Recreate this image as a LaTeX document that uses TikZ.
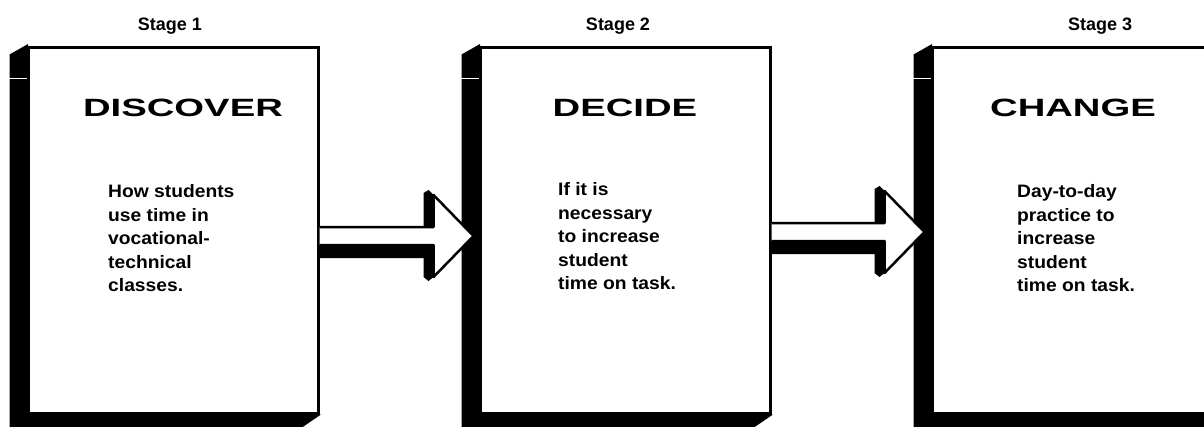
\documentclass[tikz,border=0pt]{standalone}
\usepackage{fontspec}
\setmainfont{Liberation Sans}
\newfontfamily\headfont{Liberation Sans}[FakeStretch=1.53]
\newfontfamily\bodyfont{Liberation Sans}[FakeStretch=1.07]
\usetikzlibrary{positioning,calc}

% dark side of a stage box (left and bottom)
\newcommand\BoxDepth[1]{%
  \fill ($(#1.north west)+(1.5,-1.5)$) -- ($(#1.north west)+(-17,9)$)
    -- ($(#1.south west)+(-17,14)$) -- ($(#1.south east)+(-19,14)$)
    -- ($(#1.south east)+(1.5,0)$) -- ($(#1.south west)+(1.5,0)$) -- cycle;
  \draw[white,line width=1.5pt] ($(#1.north west)+(-18,33)$) -- ($(#1.north west)+(0,33)$);
}
% hollow block arrow with its shadow, from #1 to tip #2
\newcommand\StageArrow[2]{%
  \fill ($(#1)+(0,22)$) -- ($(#1)+(0,5)$) -- ($(#2)+(-50,5)$) -- ($(#2)+(-50,-43)$)
    -- ($(#2)+(-45,-46)$) -- ($(#2)+(-40,-41)$) -- ($(#2)+(-40,41)$)
    -- ($(#2)+(-45,45)$) -- ($(#2)+(-50,41)$) -- ($(#2)+(-50,22)$) -- cycle;
  \draw[arrowface] ($(#1)+(0,-9)$) -- ($(#2)+(-40,-9)$) -- ($(#2)+(-40,-41)$) -- (#2)
    -- ($(#2)+(-40,41)$) -- ($(#2)+(-40,9)$) -- ($(#1)+(0,9)$);
}

\begin{document}
\begin{tikzpicture}[x=1pt,y=-1pt,node distance=159pt]
\tikzset{stagebox/.style={draw,fill=white,line width=3pt,inner sep=0pt,
           minimum width=290pt,minimum height=366pt},
         stagelabel/.style={inner sep=0pt,font=\bfseries\fontsize{18}{20}\selectfont},
         headtext/.style={inner sep=0pt,font=\headfont\bfseries\fontsize{25}{30}\selectfont},
         bodytext/.style={inner sep=0pt,anchor=north west,align=left,
           font=\bodyfont\bfseries\fontsize{18}{23.5}\selectfont},
         arrowface/.style={draw,fill=white,line width=2.5pt,line join=round}}
\useasboundingbox (0,0) rectangle (1204,426);

\node[stagebox] (discover) at (173,230) {};
\node[stagebox,right=of discover] (decide) {};
\node[stagebox,right=of decide] (change) {};
\BoxDepth{discover}
\BoxDepth{decide}
\BoxDepth{change}

\node[stagelabel,above=11pt of discover,xshift=-3pt] (st1) {Stage 1};
\node[stagelabel,above=11pt of decide,xshift=-7pt] (st2) {Stage 2};
\node[stagelabel,above=11pt of change,xshift=23pt] (st3) {Stage 3};

\node[headtext] (h1) at ($(discover.north)+(10,62.5)$) {DISCOVER};
\node[headtext] (h2) at ($(decide.north)+(0,62.5)$) {DECIDE};
\node[headtext] (h3) at ($(change.north)+(-4,62.5)$) {CHANGE};

\node[bodytext] (t1) at ($(discover.north west)+(81.5,139)$)
  {How students\\use time in\\vocational-\\technical\\classes.};
\node[bodytext] (t2) at ($(decide.north west)+(79.5,137)$)
  {If it is\\necessary\\to increase\\student\\time on task.};
\node[bodytext] (t3) at ($(change.north west)+(86.5,139)$)
  {Day-to-day\\practice to\\increase\\student\\time on task.};

\coordinate (a1s) at ($(discover.east)+(0,6)$);
\coordinate (a1t) at ($(decide.west)+(-5,6)$);
\coordinate (a2s) at ($(decide.east)+(0,2)$);
\coordinate (a2t) at ($(change.west)+(-6,2)$);
\StageArrow{a1s}{a1t}
\StageArrow{a2s}{a2t}
\end{tikzpicture}
\end{document}
